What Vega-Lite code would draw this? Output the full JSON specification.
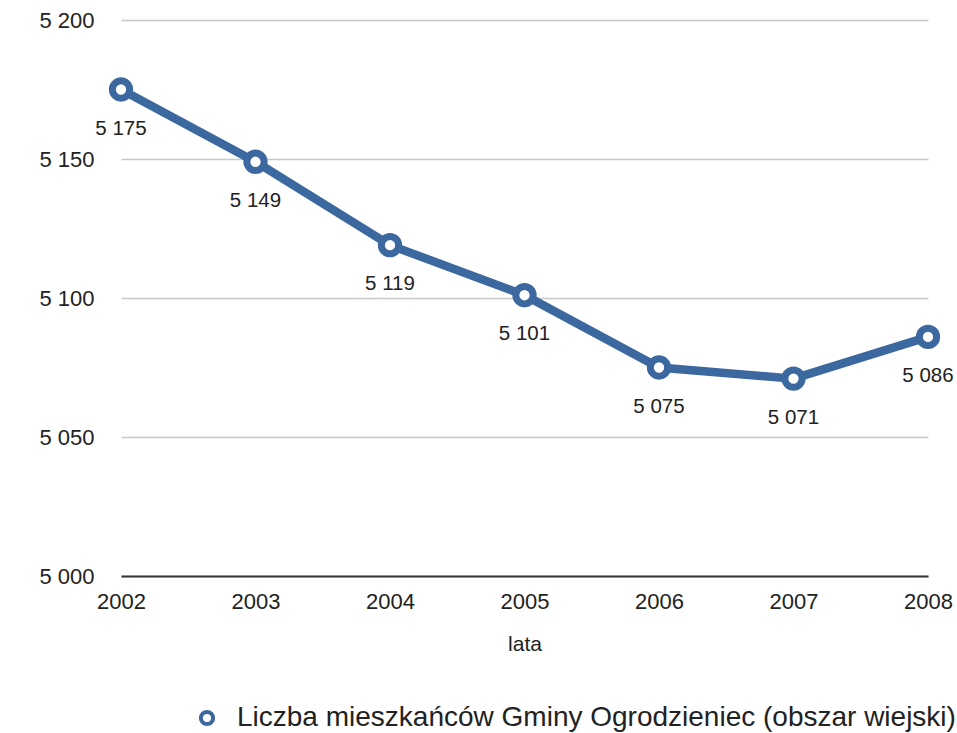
{
  "$schema": "https://vega.github.io/schema/vega-lite/v6.json",
  "width": 807,
  "height": 556,
  "autosize": "none",
  "padding": {"left": 121, "top": 20, "right": 29, "bottom": 157},
  "config": {
    "font": "Liberation Sans",
    "view": {"stroke": null},
    "locale": {"number": {"decimal": ",", "thousands": " ", "grouping": [3], "currency": ["", " zł"]}}
  },
  "data": {
    "values": [
      {"rok": "2002", "liczba": 5175},
      {"rok": "2003", "liczba": 5149},
      {"rok": "2004", "liczba": 5119},
      {"rok": "2005", "liczba": 5101},
      {"rok": "2006", "liczba": 5075},
      {"rok": "2007", "liczba": 5071},
      {"rok": "2008", "liczba": 5086}
    ]
  },
  "encoding": {
    "x": {
      "field": "rok",
      "type": "ordinal",
      "scale": {"type": "point", "padding": 0},
      "axis": {
        "title": "lata",
        "labelAngle": 0,
        "labelFontSize": 22,
        "labelColor": "#222",
        "titleFontSize": 21,
        "titleFontWeight": "normal",
        "titleColor": "#222",
        "ticks": false,
        "domainColor": "#333",
        "domainWidth": 2,
        "labelPadding": 15,
        "titlePadding": 21
      }
    },
    "y": {
      "field": "liczba",
      "type": "quantitative",
      "scale": {"domain": [5000, 5200], "nice": false, "zero": false},
      "axis": {
        "title": null,
        "values": [5000, 5050, 5100, 5150, 5200],
        "format": ",.0f",
        "domain": false,
        "ticks": false,
        "labelFontSize": 22,
        "labelColor": "#222",
        "labelPadding": 27,
        "gridColor": "#c8c8c8",
        "gridWidth": 1.5
      }
    }
  },
  "layer": [
    {"mark": {"type": "line", "color": "#3c68a0", "strokeWidth": 8.5}},
    {
      "mark": {"type": "point", "filled": false, "fill": "white", "strokeWidth": 7, "size": 300, "opacity": 1},
      "encoding": {
        "color": {
          "datum": "Liczba mieszkańców Gminy Ogrodzieniec (obszar wiejski)",
          "type": "nominal",
          "scale": {"range": ["#3c68a0"]},
          "legend": {
            "title": null,
            "orient": "none",
            "legendX": 72,
            "legendY": 684,
            "padding": 0,
            "labelFontSize": 28,
            "labelColor": "#222",
            "labelLimit": 900,
            "symbolType": "circle",
            "symbolSize": 150,
            "symbolStrokeWidth": 4,
            "symbolFillColor": "white",
            "symbolStrokeColor": "#3c68a0",
            "labelOffset": 16
          }
        }
      }
    },
    {
      "mark": {"type": "text", "dy": 39, "fontSize": 20.5, "color": "#222"},
      "encoding": {"text": {"field": "liczba", "type": "quantitative", "format": ",.0f"}}
    }
  ]
}
